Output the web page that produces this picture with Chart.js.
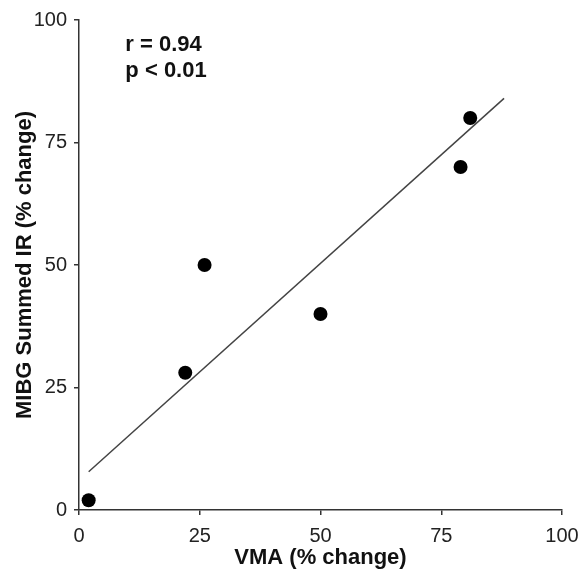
<!DOCTYPE html>
<html>
<head>
<meta charset="utf-8">
<script src="https://cdn.jsdelivr.net/npm/chart.js@4.4.1/dist/chart.umd.min.js"></script>
<style>
  html, body { margin: 0; padding: 0; background: #fff; }
  #wrap { width: 584px; height: 572px; }
</style>
</head>
<body>
<div id="wrap"><canvas id="chart" width="584" height="572"></canvas></div>
<script>
  /* ── Data ────────────────────────────────────────────────────────────── */
  const vmaChange  = [2, 22, 26, 50, 79, 81];
  const mibgChange = [2, 28, 50, 40, 70, 80];
  const fitX = [2, 88];
  const fitY = [7.8, 84];
  const tickValues = [0, 25, 50, 75, 100];
  const statsText = ['r = 0.94', 'p < 0.01'];

  const points = vmaChange.map((x, i) => ({ x, y: mibgChange[i] }));
  const fitLine = fitX.map((x, i) => ({ x, y: fitY[i] }));

  const AXIS = '#333';
  const FONT = "'Liberation Sans', Arial, sans-serif";

  /* ── Stats label in the upper left ──────────────────────────────────── */
  const statsPlugin = {
    id: 'stats',
    afterDraw(chart) {
      const { ctx, scales } = chart;
      ctx.save();
      ctx.fillStyle = '#111';
      ctx.font = `bold 22px ${FONT}`;
      ctx.textBaseline = 'alphabetic';
      const x0 = scales.x.getPixelForValue(9.6);
      ctx.fillText(statsText[0], x0, scales.y.getPixelForValue(93.7));
      ctx.fillText(statsText[1], x0, scales.y.getPixelForValue(88.4));
      ctx.restore();
    },
  };

  function axis(title, tickPad, titlePad, extra) {
    return Object.assign({
      type: 'linear',
      min: 0,
      max: 100,
      afterBuildTicks: s => { s.ticks = tickValues.map(v => ({ value: v })); },
      border: { display: true, color: AXIS, width: 1.5 },
      grid: { drawOnChartArea: false, drawTicks: true, tickLength: 5, color: AXIS, lineWidth: 1.5 },
      ticks: { color: '#222', font: { family: FONT, size: 20 }, padding: tickPad },
      title: { display: true, text: title, color: '#111', font: { family: FONT, size: 22, weight: 'bold' }, padding: titlePad },
    }, extra);
  }

  new Chart(document.getElementById('chart'), {
    type: 'scatter',
    data: {
      datasets: [
        {
          label: 'fit',
          type: 'line',
          data: fitLine,
          borderColor: '#444',
          borderWidth: 1.5,
          pointRadius: 0,
          fill: false,
        },
        {
          label: 'patients',
          data: points,
          backgroundColor: '#000',
          borderColor: '#000',
          borderWidth: 0,
          pointRadius: 7,
        },
      ],
    },
    options: {
      responsive: false,
      animation: false,
      layout: { padding: { top: 20, right: 22, left: 0, bottom: 0 } },
      plugins: { legend: { display: false }, tooltip: { enabled: false } },
      scales: {
        x: axis('VMA (% change)', 9, { top: 0, bottom: 1 }, {
          afterFit: s => { s.height = 62; s.paddingLeft = 0; s.paddingRight = 0; },
        }),
        y: axis('MIBG Summed IR (% change)', 7, { top: 12, bottom: 0 }, {
          afterFit: s => { s.width = 79; s.paddingTop = 0; s.paddingBottom = 0; },
        }),
      },
    },
    plugins: [statsPlugin],
  });
</script>
</body>
</html>
